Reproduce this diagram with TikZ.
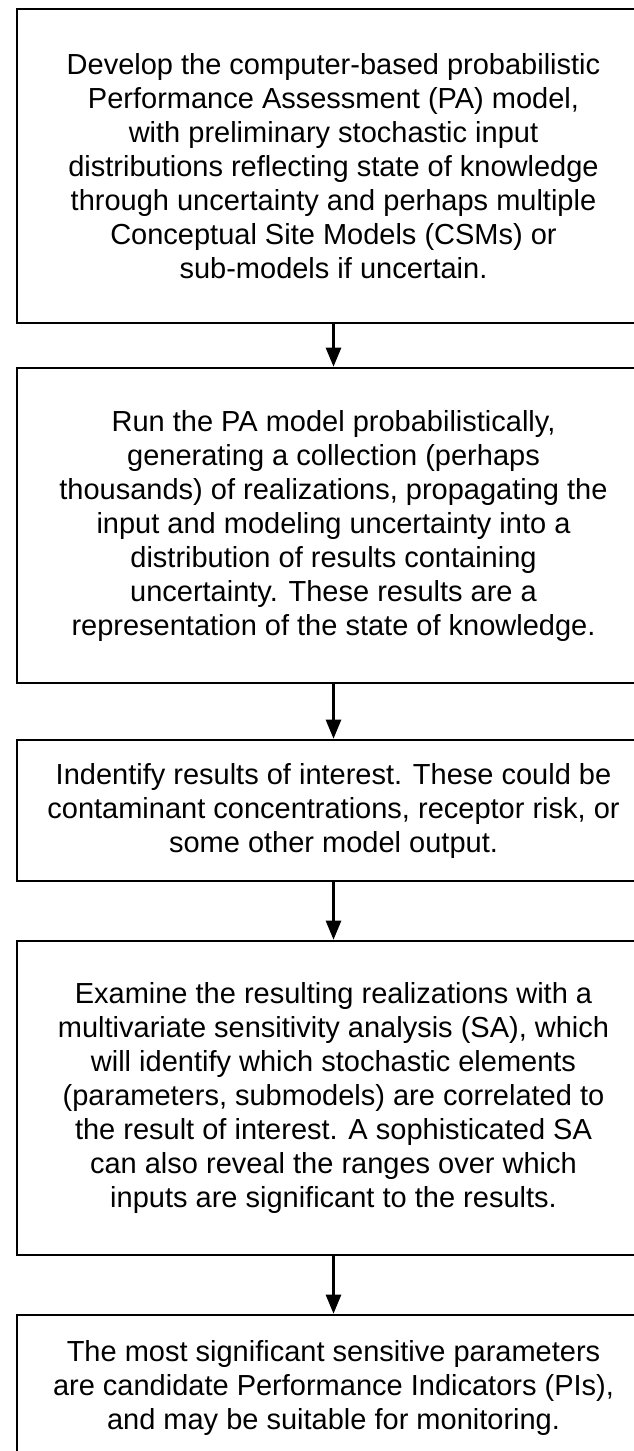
\documentclass[tikz,border=0pt]{standalone}
\usepackage{fontspec}
\setmainfont{Liberation Sans}
\usetikzlibrary{arrows.meta}

\tikzset{
  stepbox/.style={draw, line width=2.6pt, rectangle, minimum width=633pt,
    inner sep=0pt, align=center, font=\fontsize{29pt}{34pt}\selectfont},
  flow/.style={line width=2.6pt, -{Triangle[width=15pt,length=19pt]}}
}

\begin{document}
\begin{tikzpicture}[x=1pt, y=-1pt]
  \useasboundingbox (0,0) rectangle (634,1451);
  \clip (0,0) rectangle (634,1451);
  \fill[white] (0,0) rectangle (634,1451);

  \node[stepbox, minimum height=314pt] (b1) at (333.5,166)
    {Develop the computer-based probabilistic\\Performance Assessment (PA) model,\\with preliminary stochastic input\\distributions reflecting state of knowledge\\through uncertainty and perhaps multiple\\Conceptual Site Models (CSMs) or\\sub-models if uncertain.};

  \node[stepbox, minimum height=315pt] (b2) at (333.5,525.5)
    {Run the PA model probabilistically,\\generating a collection (perhaps\\thousands) of realizations, propagating the\\input and modeling uncertainty into a\\distribution of results containing\\uncertainty. These results are a\\representation of the state of knowledge.};

  \node[stepbox, minimum height=141pt] (b3) at (333.5,810.5)
    {Indentify results of interest. These could be\\contaminant concentrations, receptor risk, or\\some other model output.};

  \node[stepbox, minimum height=314pt] (b4) at (333.5,1098)
    {Examine the resulting realizations with a\\multivariate sensitivity analysis (SA), which\\will identify which stochastic elements\\(parameters, submodels) are correlated to\\the result of interest. A sophisticated SA\\can also reveal the ranges over which\\inputs are significant to the results.};

  \node[stepbox, minimum height=146pt] (b5) at (333.5,1388)
    {The most significant sensitive parameters\\are candidate Performance Indicators (PIs),\\and may be suitable for monitoring.};

  \draw[flow] (b1.south) -- (b2.north);
  \draw[flow] (b2.south) -- (b3.north);
  \draw[flow] (b3.south) -- (b4.north);
  \draw[flow] (b4.south) -- (b5.north);
\end{tikzpicture}
\end{document}
